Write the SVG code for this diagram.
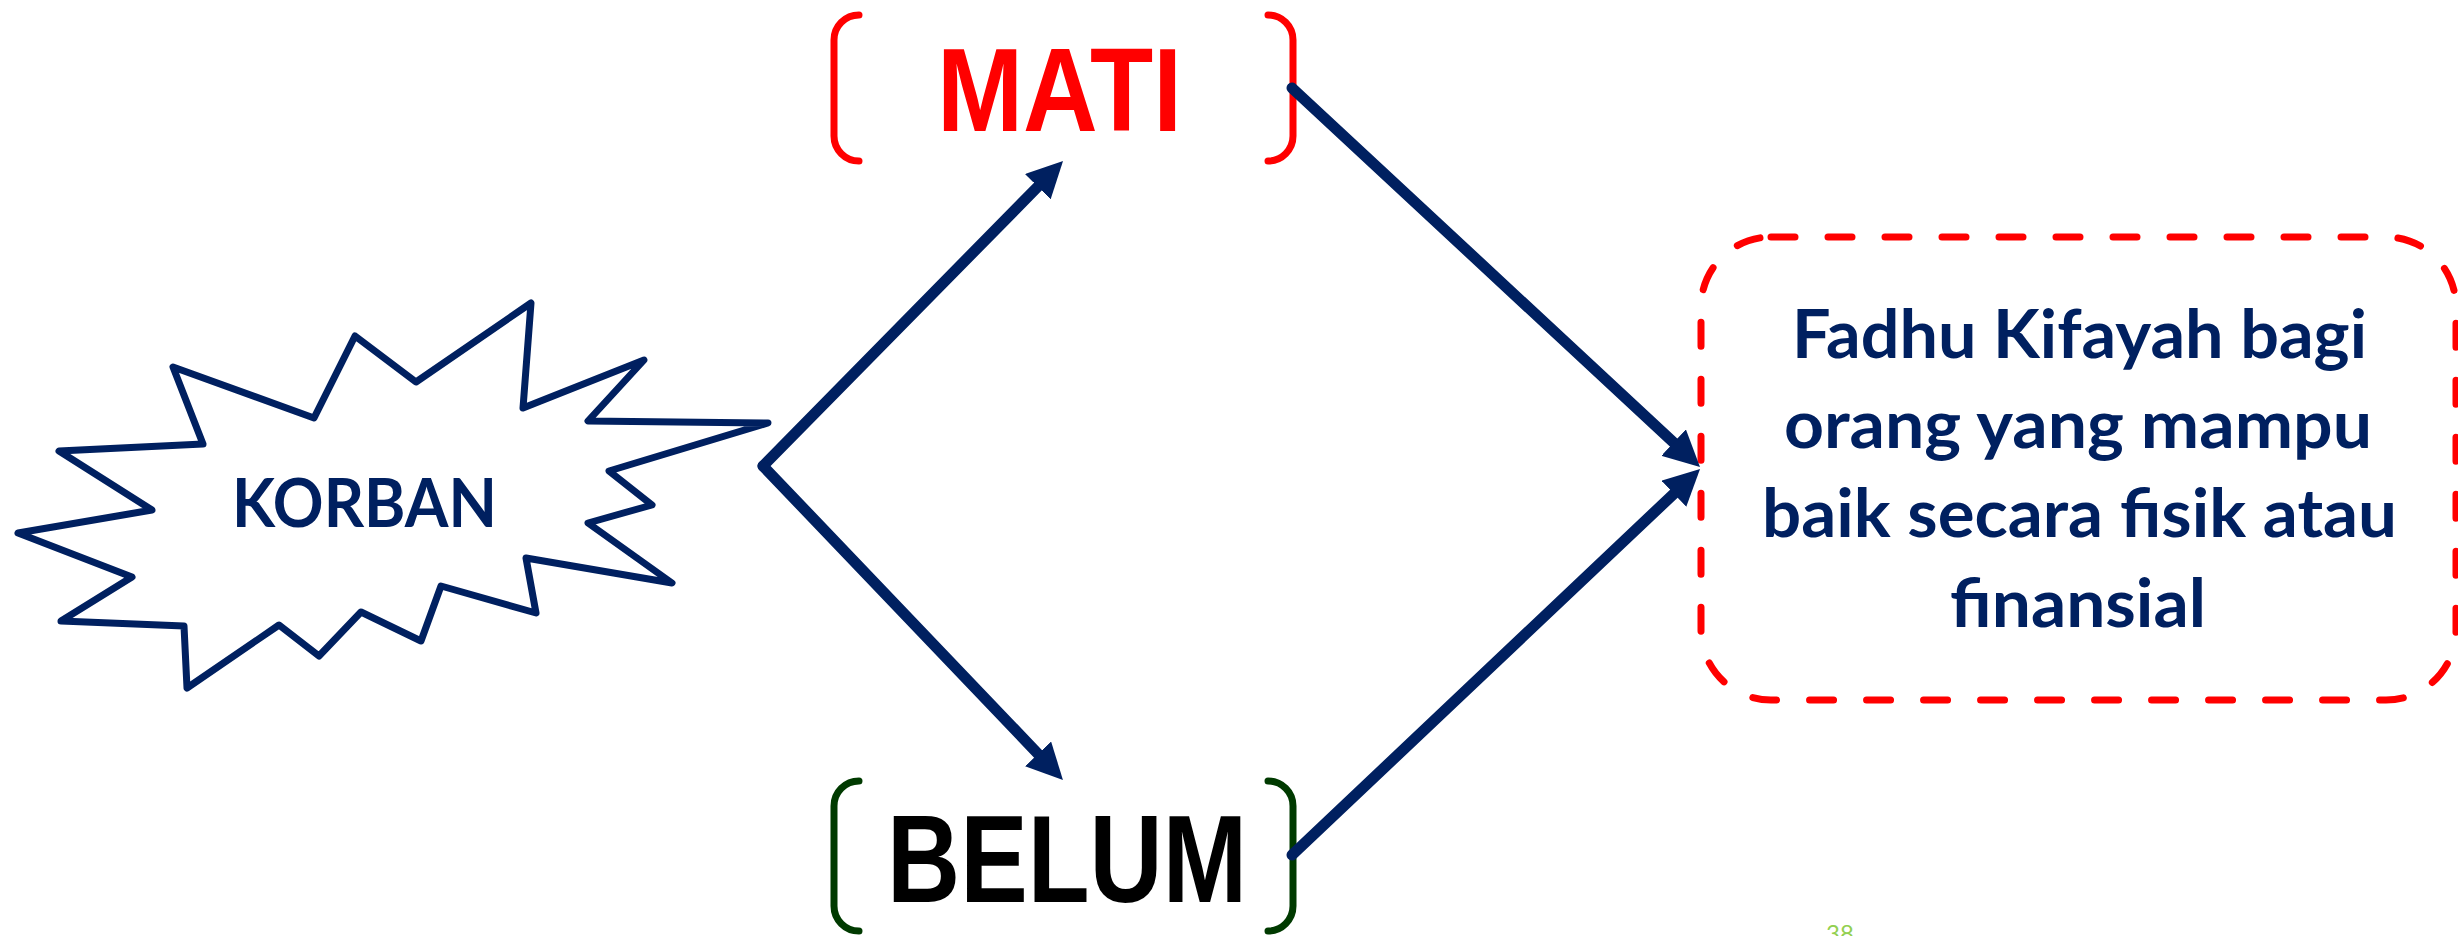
<svg xmlns="http://www.w3.org/2000/svg" width="2458" height="936" viewBox="0 0 2458 936">
<style>
  .navy { fill: #002060; }
  .burst { fill: #ffffff; stroke: #002060; stroke-width: 7; stroke-linejoin: round; }
  .conn { fill: none; stroke: #002060; stroke-width: 11; stroke-linecap: round; stroke-linejoin: round; }
  .br-red { fill: none; stroke: #FF0000; stroke-width: 7; stroke-linecap: round; }
  .br-green { fill: none; stroke: #003A00; stroke-width: 7; stroke-linecap: round; }
  .box { fill: #ffffff; stroke: #FF0000; stroke-width: 7; stroke-dasharray: 24 33; stroke-linecap: round; }
  .cal { font-family: Lato, "Open Sans", "DejaVu Sans", sans-serif; font-weight: bold; }
  .big { font-family: "Liberation Sans", Arial, sans-serif; font-weight: bold; }
</style>
<defs>
  <marker id="arrow" viewBox="0 0 36 36" refX="8" refY="18" markerWidth="36" markerHeight="36" markerUnits="userSpaceOnUse" orient="auto">
    <path d="M0,0 L36,18 L0,36 Z" fill="#002060"/>
  </marker>
</defs>
<rect width="2458" height="936" fill="#ffffff"/>

<g id="korban">
  <polygon class="burst" points="173,367 314,418 355,336 416,382 531,303 523,408 644,360 588,421 768,423 609,471 652,505 588,523 672,583 526,558 536,613 441,586 421,641 361,612 319,656 279,625 187,688 184,626 61,621 132,577 18,533 152,510 59,451 203,444"/>
  <text class="cal navy" x="232" y="527" font-size="66" textLength="265" lengthAdjust="spacingAndGlyphs">KORBAN</text>
</g>

<g id="mati">
  <path class="br-red" d="M859,15 A25,25 0 0 0 834,40 L834,136 A25,25 0 0 0 859,161"/>
  <path class="br-red" d="M1268,15 A25,25 0 0 1 1293,40 L1293,136 A25,25 0 0 1 1268,161"/>
  <text class="big" x="937" y="131" font-size="119" fill="#FF0000" textLength="245" lengthAdjust="spacingAndGlyphs">MATI</text>
</g>

<g id="belum">
  <path class="br-green" d="M859,781 A25,25 0 0 0 834,806 L834,906 A25,25 0 0 0 859,931"/>
  <path class="br-green" d="M1268,781 A25,25 0 0 1 1293,806 L1293,906 A25,25 0 0 1 1268,931"/>
  <text class="big" x="887" y="902" font-size="124" fill="#000000" textLength="360" lengthAdjust="spacingAndGlyphs">BELUM</text>
</g>

<g id="result">
  <rect class="box" x="1701" y="237" width="755" height="463" rx="70" ry="70"/>
  <text class="cal navy" font-size="66">
    <tspan x="1792" y="358" textLength="575" lengthAdjust="spacingAndGlyphs">Fadhu Kifayah bagi</tspan>
    <tspan x="1784" y="448" textLength="588" lengthAdjust="spacingAndGlyphs">orang yang mampu</tspan>
    <tspan x="1762" y="537" textLength="635" lengthAdjust="spacingAndGlyphs">baik secara fisik atau</tspan>
    <tspan x="1950" y="627" textLength="256" lengthAdjust="spacingAndGlyphs">finansial</tspan>
  </text>
</g>

<g id="connectors">
  <path class="conn" d="M763,466 L1043.4,181" marker-end="url(#arrow)"/>
  <path class="conn" d="M763,466 L1043.6,759.7" marker-end="url(#arrow)"/>
  <path class="conn" d="M1292,88 L1679.5,448" marker-end="url(#arrow)"/>
  <path class="conn" d="M1292,855 L1679.7,488.2" marker-end="url(#arrow)"/>
</g>

<g id="page-number">
  <text x="1840" y="942" font-size="24" text-anchor="middle" fill="#92D050" font-family="Lato, 'Open Sans', sans-serif">38</text>
</g>
</svg>
